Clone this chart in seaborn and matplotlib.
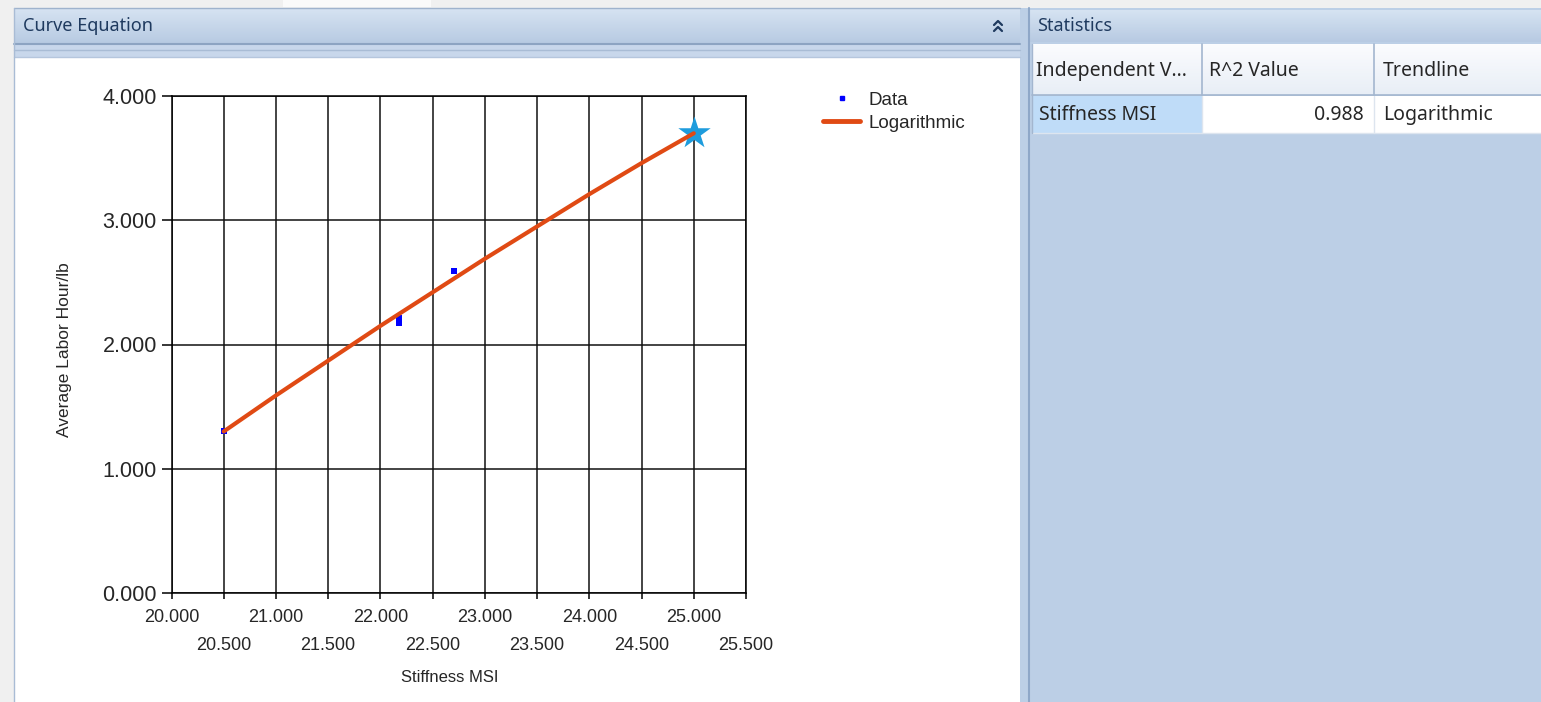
import numpy as np
import matplotlib
matplotlib.use("Agg")
import matplotlib.pyplot as plt
from matplotlib.patches import Rectangle
from matplotlib.lines import Line2D
import seaborn as sns

# ---- data ----
stiffness = [20.50, 22.18, 22.18, 22.70]
labor_hours = [1.30, 2.17, 2.21, 2.59]

trend_x = [20.5, 21.0, 21.5, 22.0, 22.5, 23.0, 23.5, 24.0, 24.5, 25.0]
trend_y = [1.30, 1.59, 1.87, 2.15, 2.42, 2.69, 2.95, 3.21, 3.46, 3.70]

predict_x = [25.0]
predict_y = [3.70]

x_ticks = [20.0, 20.5, 21.0, 21.5, 22.0, 22.5, 23.0, 23.5, 24.0, 24.5, 25.0, 25.5]
y_ticks = [0.0, 1.0, 2.0, 3.0, 4.0]

table_cols = ["Independent V...", "R^2 Value", "Trendline"]
table_row = ["Stiffness MSI", "0.988", "Logarithmic"]

sns.set_style("white")
plt.rcParams['font.family'] = ['Liberation Sans', 'DejaVu Sans']

W, H = 1541, 702
fig = plt.figure(figsize=(W / 100, H / 100), dpi=100)
fig.patch.set_facecolor('#F0F0F0')

# ---- window chrome, drawn in pixel coordinates ----
bg = fig.add_axes([0, 0, 1, 1])

grad = np.linspace(0, 1, 50).reshape(-1, 1)
header_cmap = matplotlib.colors.LinearSegmentedColormap.from_list('hdr', ['#D6E3F2', '#B7CAE2'])
row_cmap = matplotlib.colors.LinearSegmentedColormap.from_list('row', ['#FBFCFE', '#E8EEF6'])

bg.add_patch(Rectangle((283, 0), 148, 7, color='#FAFAFA', lw=0))
bg.add_patch(Rectangle((1020, 8), W - 1020, H - 8, color='#BCCFE6', lw=0))
bg.add_patch(Rectangle((14, 57), 1006, H - 57, color='white', lw=0))

# left panel header
bg.imshow(grad, cmap=header_cmap, extent=(14, 1020, 44, 8), aspect='auto', zorder=2)
bg.add_patch(Rectangle((14, 44), 1006, 13, color='#C8D7EB', lw=0))
bg.plot([14, 1020], [8, 8], color='#9FB3CD', lw=1, zorder=3)
bg.plot([14, 1020], [44, 44], color='#8DA4C2', lw=1.5, zorder=3)
bg.plot([14, 1020], [50, 50], color='#A9BCD5', lw=1, zorder=3)
bg.plot([14, 1020], [57, 57], color='#B5C6DD', lw=1, zorder=3)
bg.plot([14, 14], [8, H], color='#A9BCD5', lw=1, zorder=3)
bg.text(23, 26, "Curve Equation", fontsize=13, color='#1F3A5F', va='center', ha='left',
        family=['Noto Sans', 'DejaVu Sans'], zorder=4)
for yy in (25, 31):
    bg.plot([994, 998, 1002], [yy, yy - 4, yy], color='#1F3A5F', lw=1.6, zorder=4)

# splitter
bg.plot([1029, 1029], [8, H], color='#8EA7C8', lw=1.5, zorder=3)

# right panel header
bg.imshow(grad, cmap=header_cmap, extent=(1030, W, 42, 10), aspect='auto', zorder=2)
bg.text(1037, 26, "Statistics", fontsize=13, color='#1F3A5F', va='center', ha='left',
        family=['Noto Sans', 'DejaVu Sans'], zorder=4)

# table
bg.imshow(grad, cmap=row_cmap, extent=(1032, W, 95, 44), aspect='auto', zorder=2)
bg.add_patch(Rectangle((1032, 96), 170, 37, color='#BFDCF8', lw=0, zorder=2))
bg.add_patch(Rectangle((1202, 96), W - 1202, 37, color='white', lw=0, zorder=2))
for xx in (1202, 1374):
    bg.plot([xx, xx], [44, 95], color='#A3B6CF', lw=1.2, zorder=3)
    bg.plot([xx, xx], [96, 133], color='#DDE5EF', lw=1, zorder=3)
bg.plot([1032, W], [95, 95], color='#A3B6CF', lw=1.2, zorder=3)
bg.plot([1032, W], [133, 133], color='#DDE5EF', lw=1, zorder=3)
bg.plot([1032, 1032], [44, 133], color='#A3B6CF', lw=1, zorder=3)
tfont = ['Noto Sans', 'DejaVu Sans']
bg.text(1036, 71, table_cols[0], fontsize=14, va='center', ha='left', family=tfont, zorder=4)
bg.text(1209, 71, table_cols[1], fontsize=14, va='center', ha='left', family=tfont, zorder=4)
bg.text(1383, 71, table_cols[2], fontsize=14, va='center', ha='left', family=tfont, zorder=4)
bg.text(1039, 115, table_row[0], fontsize=14, va='center', ha='left', family=tfont, zorder=4)
bg.text(1364, 115, table_row[1], fontsize=14, va='center', ha='right', family=tfont, zorder=4)
bg.text(1383, 115, table_row[2], fontsize=14, va='center', ha='left', family=tfont, zorder=4)

bg.set_xlim(0, W)
bg.set_ylim(H, 0)
bg.axis('off')

# ---- chart ----
ax = fig.add_axes([171.5 / W, 109 / H, 574.5 / W, 497 / H])
ax.set_facecolor('white')

sns.scatterplot(x=stiffness, y=labor_hours, marker='s', s=24, color='#0000FF',
                linewidth=0, ax=ax, zorder=3)
sns.scatterplot(x=predict_x, y=predict_y, marker='*', s=600, color='#1E9CDD',
                linewidth=0, ax=ax, zorder=4)
sns.lineplot(x=trend_x, y=trend_y, color='#E04A14', linewidth=3, ax=ax, zorder=5)

ax.set_xlim(20.0, 25.5)
ax.set_ylim(0.0, 4.0)
ax.set_xticks(x_ticks)
ax.set_yticks(y_ticks)
ax.set_xticklabels([f"{v:.3f}" for v in x_ticks], fontsize=13)
ax.set_yticklabels([f"{v:.3f}" for v in y_ticks], fontsize=15.5)
ax.tick_params(axis='both', direction='out', width=1.1, color='black',
               bottom=True, left=True)
ax.tick_params(axis='y', length=7, pad=3.5)
ax.tick_params(axis='x', length=4)
for i, t in enumerate(ax.xaxis.get_major_ticks()):
    t.set_pad(7.5 if i % 2 == 0 else 27.5)

ax.grid(True, color='#111111', linewidth=1.1)
for s in ax.spines.values():
    s.set_color('black')
    s.set_linewidth(1.1)
ax.set_xlabel("")
ax.set_ylabel("")

fig.text(450 / W, 1 - 677 / H, "Stiffness MSI", fontsize=12, ha='center', va='center')
fig.text(65 / W, 1 - 350 / H, "Average Labor Hour/lb", fontsize=12.5, rotation=90,
         ha='center', va='center')

handles = [Line2D([], [], marker='s', markersize=3.5, color='#0000FF', linestyle='none'),
           Line2D([], [], color='#E04A14', linewidth=3.5)]
fig.legend(handles, ["Data", "Logarithmic"], loc='upper left',
           bbox_to_anchor=(806 / W, 1 - 75 / H), frameon=False, fontsize=13.5,
           handlelength=2.0, handletextpad=0.43, labelspacing=0.3)

fig.savefig("out.png", dpi=100)
